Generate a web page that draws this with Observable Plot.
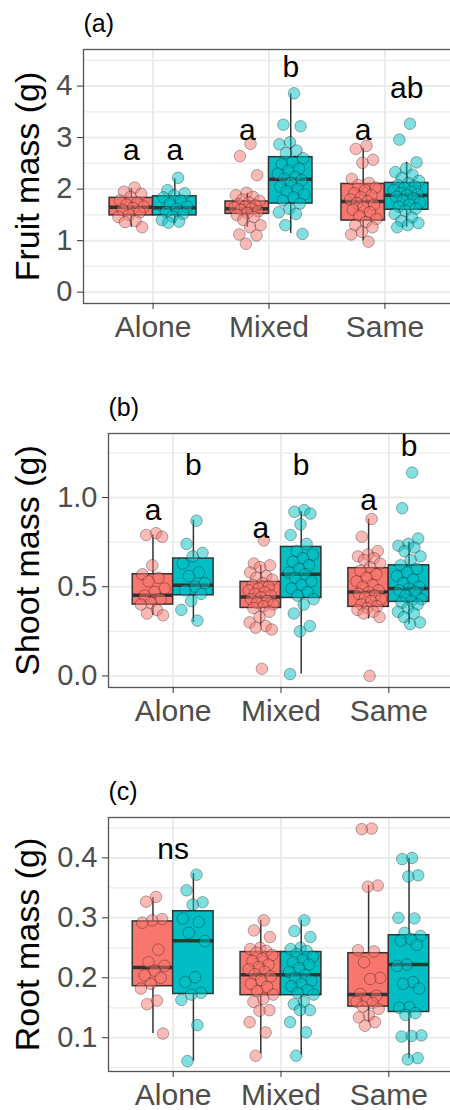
<!DOCTYPE html>
<html>
<head>
<meta charset="utf-8">
<script src="https://cdn.jsdelivr.net/npm/d3@7"></script>
<script src="https://cdn.jsdelivr.net/npm/@observablehq/plot@0.6"></script>
<style>
  html, body { margin: 0; padding: 0; background: #fff; overflow: hidden; }
  #wrap { position: relative; width: 450px; height: 1110px; overflow: hidden; background: #fff; }
  .panel { position: absolute; left: 0; width: 460px; }
  svg { font-family: "Liberation Sans", Arial, sans-serif; }
</style>
</head>
<body>
<div id="wrap">
  <div class="panel" id="pa" style="top:0px"></div>
  <div class="panel" id="pb" style="top:384px"></div>
  <div class="panel" id="pc" style="top:768px"></div>
</div>
<script>
// ---------- data ----------
const categories = ["Alone", "Mixed", "Same"];
const groups = ["A", "B"];
const groupColors = ["#F8766D", "#00BFC4"];

// (a) Fruit mass (g)
const fruitTicks = [0, 1, 2, 3, 4];
const fruitMinor = [0.5, 1.5, 2.5, 3.5, 4.5];
const fruitLow  = [1.26, 1.33, 1.26, 1.14, 1.00, 1.26];
const fruitQ1   = [1.49, 1.49, 1.52, 1.72, 1.39, 1.60];
const fruitMed  = [1.65, 1.64, 1.62, 2.19, 1.76, 1.88];
const fruitQ3   = [1.83, 1.86, 1.76, 2.62, 2.10, 2.12];
const fruitHigh = [2.01, 2.20, 1.92, 3.85, 2.80, 2.52];
const fruitLetters = ["a", "a", "a", "b", "a", "ab"];
const fruitLetterY = [2.75, 2.75, 3.14, 4.37, 3.14, 3.95];
const fruit_Alone_A = [2.03, 1.95, 1.91, 1.85, 1.78, 1.74, 1.70, 1.66, 1.63, 1.60, 1.55, 1.50, 1.46, 1.38, 1.36, 1.26];
const fruit_Alone_B = [2.22, 1.98, 1.92, 1.88, 1.84, 1.78, 1.72, 1.66, 1.62, 1.56, 1.52, 1.47, 1.40, 1.37, 1.35];
const fruit_Mixed_A = [2.88, 2.64, 2.27, 1.93, 1.88, 1.85, 1.80, 1.77, 1.74, 1.71, 1.68, 1.66, 1.64, 1.62, 1.60, 1.57, 1.54, 1.50, 1.46, 1.40, 1.30, 1.26, 1.12, 1.10, 0.94];
const fruit_Mixed_B = [3.86, 3.25, 3.22, 2.91, 2.87, 2.75, 2.70, 2.60, 2.52, 2.48, 2.40, 2.36, 2.30, 2.24, 2.20, 2.17, 2.12, 2.05, 2.00, 1.96, 1.90, 1.84, 1.78, 1.72, 1.62, 1.55, 1.52, 1.30, 1.13];
const fruit_Same_A  = [2.84, 2.78, 2.57, 2.51, 2.20, 2.12, 2.08, 2.03, 1.98, 1.92, 1.88, 1.84, 1.80, 1.76, 1.73, 1.70, 1.65, 1.60, 1.55, 1.48, 1.42, 1.36, 1.30, 1.26, 1.17, 1.12, 0.98];
const fruit_Same_B  = [3.27, 2.96, 2.52, 2.40, 2.33, 2.28, 2.22, 2.16, 2.12, 2.08, 2.05, 2.02, 1.98, 1.95, 1.92, 1.90, 1.88, 1.85, 1.82, 1.78, 1.74, 1.70, 1.66, 1.62, 1.58, 1.52, 1.45, 1.38, 1.34, 1.30, 1.26];

// (b) Shoot mass (g)
const shootTicks = [0, 0.5, 1.0];
const shootMinor = [0.25, 0.75, 1.25];
const shootLow  = [0.34, 0.30, 0.28, 0.01, 0.32, 0.29];
const shootQ1   = [0.400, 0.452, 0.381, 0.437, 0.387, 0.415];
const shootMed  = [0.452, 0.508, 0.443, 0.570, 0.471, 0.490];
const shootQ3   = [0.570, 0.658, 0.527, 0.723, 0.604, 0.620];
const shootHigh = [0.79, 0.873, 0.62, 0.92, 0.88, 0.75];
const shootLetters = ["a", "b", "a", "b", "a", "b"];
const shootLetterY = [0.929, 1.181, 0.826, 1.181, 0.985, 1.284];
const shoot_Alone_A = [0.80, 0.79, 0.78, 0.62, 0.57, 0.55, 0.53, 0.49, 0.47, 0.45, 0.43, 0.41, 0.40, 0.37, 0.35, 0.34];
const shoot_Alone_B = [0.87, 0.74, 0.69, 0.67, 0.63, 0.58, 0.56, 0.52, 0.50, 0.48, 0.46, 0.42, 0.37, 0.31];
const shoot_Mixed_A = [0.76, 0.63, 0.62, 0.61, 0.58, 0.56, 0.55, 0.54, 0.52, 0.51, 0.50, 0.49, 0.48, 0.47, 0.46, 0.45, 0.44, 0.43, 0.42, 0.41, 0.40, 0.39, 0.38, 0.36, 0.33, 0.30, 0.28, 0.27, 0.26, 0.04];
const shoot_Mixed_B = [0.93, 0.92, 0.91, 0.85, 0.79, 0.74, 0.70, 0.68, 0.66, 0.64, 0.62, 0.60, 0.58, 0.57, 0.55, 0.53, 0.51, 0.49, 0.47, 0.45, 0.43, 0.40, 0.35, 0.28, 0.25, 0.01];
const shoot_Same_A  = [0.88, 0.78, 0.70, 0.68, 0.67, 0.66, 0.65, 0.63, 0.61, 0.59, 0.57, 0.55, 0.53, 0.51, 0.50, 0.48, 0.47, 0.46, 0.45, 0.44, 0.43, 0.42, 0.40, 0.39, 0.38, 0.37, 0.36, 0.35, 0.33, 0.00];
const shoot_Same_B  = [1.14, 0.94, 0.77, 0.74, 0.73, 0.72, 0.70, 0.67, 0.65, 0.62, 0.60, 0.58, 0.56, 0.54, 0.52, 0.50, 0.49, 0.48, 0.47, 0.45, 0.43, 0.42, 0.41, 0.40, 0.38, 0.36, 0.35, 0.33, 0.30, 0.29];

// (c) Root mass (g)
const rootTicks = [0.1, 0.2, 0.3, 0.4];
const rootMinor = [0.05, 0.15, 0.25, 0.35, 0.45];
const rootLow  = [0.107, 0.061, 0.073, 0.071, 0.126, 0.065];
const rootQ1   = [0.186, 0.173, 0.171, 0.171, 0.152, 0.143];
const rootMed  = [0.217, 0.262, 0.205, 0.205, 0.172, 0.222];
const rootQ3   = [0.294, 0.311, 0.243, 0.243, 0.241, 0.271];
const rootHigh = [0.334, 0.374, 0.296, 0.296, 0.354, 0.399];
const rootNote = "ns";
const rootNoteY = 0.4145;
const root_Alone_A = [0.335, 0.327, 0.298, 0.296, 0.292, 0.247, 0.226, 0.220, 0.212, 0.204, 0.200, 0.190, 0.182, 0.162, 0.156, 0.107];
const root_Alone_B = [0.372, 0.346, 0.326, 0.322, 0.299, 0.293, 0.275, 0.261, 0.201, 0.193, 0.175, 0.172, 0.163, 0.121, 0.061];
const root_Mixed_A = [0.296, 0.279, 0.268, 0.250, 0.248, 0.245, 0.242, 0.238, 0.232, 0.228, 0.222, 0.218, 0.214, 0.210, 0.206, 0.202, 0.196, 0.190, 0.185, 0.178, 0.172, 0.165, 0.160, 0.146, 0.145, 0.126, 0.109, 0.070];
const root_Mixed_B = [0.296, 0.278, 0.268, 0.250, 0.248, 0.245, 0.240, 0.235, 0.230, 0.226, 0.222, 0.216, 0.210, 0.205, 0.200, 0.195, 0.190, 0.186, 0.180, 0.175, 0.172, 0.160, 0.156, 0.146, 0.146, 0.126, 0.109, 0.070];
const root_Same_A  = [0.449, 0.448, 0.354, 0.352, 0.246, 0.244, 0.226, 0.200, 0.198, 0.173, 0.170, 0.162, 0.160, 0.158, 0.152, 0.148, 0.137, 0.134, 0.126, 0.120];
const root_Same_B  = [0.400, 0.398, 0.371, 0.369, 0.300, 0.299, 0.275, 0.270, 0.265, 0.262, 0.255, 0.222, 0.220, 0.193, 0.190, 0.182, 0.151, 0.150, 0.141, 0.138, 0.104, 0.103, 0.102, 0.066, 0.064];

// ---------- drawing ----------
const HALF = 0.1875;           // half box width (dodge 0.75 / 2 groups / 2)
const dodge = [-HALF, HALF];
const JIT = 0.12;              // jitter half width, in category units
const jit = i => ((((i + 1) * 0.6180339887) % 1) - 0.5) * 2 * JIT;
const FONT = '"Liberation Sans", Arial, sans-serif';

function panel(cfg) {
  const boxes = [], pts = [], lets = [];
  categories.forEach((c, ci) => groups.forEach((g, gi) => {
    const k = ci * 2 + gi, xc = ci + dodge[gi];
    boxes.push({xc, x1: xc - HALF, x2: xc + HALF, low: cfg.low[k], q1: cfg.q1[k], med: cfg.med[k], q3: cfg.q3[k], high: cfg.high[k], g});
    cfg.points[k].forEach((v, i) => pts.push({x: xc + jit(i), y: v, g}));
    if (cfg.letters) lets.push({x: xc, y: cfg.letterY[k], t: cfg.letters[k]});
  }));
  const marks = [
    Plot.ruleY(cfg.minor, {stroke: "#ebebeb", strokeWidth: 1.2}),
    Plot.ruleY(cfg.ticks, {stroke: "#ebebeb", strokeWidth: 2}),
    Plot.ruleX([0, 1, 2], {stroke: "#ebebeb", strokeWidth: 2}),
    Plot.ruleX(boxes, {x: "xc", y1: "low", y2: "high", stroke: "#333", strokeWidth: 1.5}),
    Plot.rect(boxes, {x1: "x1", x2: "x2", y1: "q1", y2: "q3", fill: "g", stroke: "#333", strokeWidth: 1.5}),
    Plot.ruleY(boxes, {y: "med", x1: "x1", x2: "x2", stroke: "#333", strokeWidth: 3.5}),
    Plot.dot(pts, {x: "x", y: "y", r: 5.8, fill: "g", fillOpacity: 0.5, stroke: "#000", strokeOpacity: 0.3, strokeWidth: 1}),
    Plot.frame({stroke: "#555", strokeWidth: 1.3}),
    Plot.axisX({ticks: [0, 1, 2], tickFormat: i => categories[i], tickSize: 6, tickPadding: 6, fontSize: 30, stroke: "#333", fill: "#4d4d4d", label: null}),
    Plot.axisY({ticks: cfg.ticks, tickFormat: cfg.fmt, tickSize: 6, tickPadding: 5, fontSize: 29, stroke: "#333", fill: "#4d4d4d", label: null}),
    Plot.text([cfg.title], {text: d => d, frameAnchor: "top-left", textAnchor: "start", lineAnchor: "middle", dy: -26, fontSize: 25, fill: "#000"}),
    Plot.text([cfg.ylabel], {text: d => d, frameAnchor: "left", textAnchor: "middle", lineAnchor: "middle", rotate: -90, dx: cfg.ydx, fontSize: 34, fill: "#000"})
  ];
  if (cfg.letters) marks.push(Plot.text(lets, {x: "x", y: "y", text: "t", fontSize: 30, fill: "#000"}));
  if (cfg.note) marks.push(Plot.text([cfg.note], {x: () => 0, y: () => cfg.noteY, text: d => d, fontSize: 30, fill: "#000"}));
  return Plot.plot({
    width: 460, height: 343,
    marginTop: 49, marginBottom: 40, marginLeft: cfg.ml, marginRight: 460 - cfg.right,
    x: {domain: [-0.6, 2.6], axis: null},
    y: {domain: cfg.domain, axis: null},
    color: {domain: groups, range: groupColors},
    style: {fontFamily: FONT, background: "transparent", overflow: "visible"},
    marks
  });
}

document.getElementById("pa").append(panel({
  title: "(a)", ylabel: "Fruit mass (g)", ml: 83, right: 454, ydx: -55,
  domain: [-0.22, 4.71], ticks: fruitTicks, minor: fruitMinor, fmt: d3.format("d"),
  low: fruitLow, q1: fruitQ1, med: fruitMed, q3: fruitQ3, high: fruitHigh,
  points: [fruit_Alone_A, fruit_Alone_B, fruit_Mixed_A, fruit_Mixed_B, fruit_Same_A, fruit_Same_B],
  letters: fruitLetters, letterY: fruitLetterY
}));
document.getElementById("pb").append(panel({
  title: "(b)", ylabel: "Shoot mass (g)", ml: 108, right: 453, ydx: -80,
  domain: [-0.065, 1.359], ticks: shootTicks, minor: shootMinor, fmt: d3.format(".1f"),
  low: shootLow, q1: shootQ1, med: shootMed, q3: shootQ3, high: shootHigh,
  points: [shoot_Alone_A, shoot_Alone_B, shoot_Mixed_A, shoot_Mixed_B, shoot_Same_A, shoot_Same_B],
  letters: shootLetters, letterY: shootLetterY
}));
document.getElementById("pc").append(panel({
  title: "(c)", ylabel: "Root mass (g)", ml: 108, right: 453, ydx: -80,
  domain: [0.0437, 0.4674], ticks: rootTicks, minor: rootMinor, fmt: d3.format(".1f"),
  low: rootLow, q1: rootQ1, med: rootMed, q3: rootQ3, high: rootHigh,
  points: [root_Alone_A, root_Alone_B, root_Mixed_A, root_Mixed_B, root_Same_A, root_Same_B],
  note: rootNote, noteY: rootNoteY
}));
</script>
</body>
</html>
